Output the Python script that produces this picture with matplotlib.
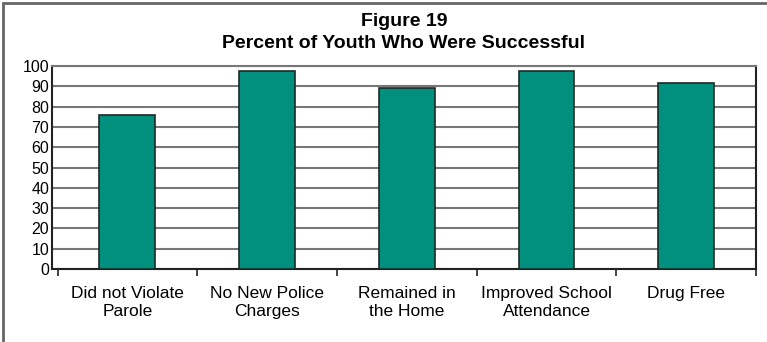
import matplotlib.pyplot as plt
from matplotlib.patches import Rectangle

categories = ["Did not Violate\nParole", "No New Police\nCharges", "Remained in\nthe Home",
              "Improved School\nAttendance", "Drug Free"]
percents = [76, 97.5, 89, 97.5, 91.5]
yticks = list(range(0, 101, 10))

plt.rcParams['font.family'] = ['Liberation Sans', 'DejaVu Sans']

fig = plt.figure(figsize=(7.67, 3.42), dpi=100)
W, H = 767, 342

# outer frame (only left and top edges show in the reference)
fig.patches.append(Rectangle((3 / W, -0.1), 1.2, (H - 3) / H + 0.1, transform=fig.transFigure,
                             fill=False, edgecolor='#666666', linewidth=2))

ax = fig.add_axes([52 / W, 1 - 269 / H, (756 - 52) / W, (269 - 66) / H])

x = range(len(categories))
ax.bar(x, percents, width=0.4, color='#00907d', edgecolor='#1e2a28', linewidth=1.2, zorder=3)

ax.set_ylim(0, 100)
ax.set_xlim(-0.54, 4.5)
ax.set_yticks(yticks)
ax.set_yticklabels([str(t) for t in yticks], fontsize=11.5)
ax.tick_params(axis='y', length=0, pad=2)
ax.yaxis.grid(True, color='#777777', linewidth=1.5, zorder=0)
ax.set_axisbelow(True)

ax.set_xticks(list(x))
ax.set_xticklabels(categories, fontsize=12.5, linespacing=1.25)
ax.tick_params(axis='x', which='major', length=0, pad=12)
ax.set_xticks([i - 0.5 for i in range(len(categories) + 1)], minor=True)
ax.tick_params(axis='x', which='minor', length=5, width=1.2, color='#222222', direction='out')

for side in ['left', 'bottom', 'right']:
    ax.spines[side].set_color('#222222')
    ax.spines[side].set_linewidth(1.5)
ax.spines['top'].set_color('#777777')
ax.spines['top'].set_linewidth(1.5)

fig.text(404 / W, 1 - 21 / H, "Figure 19", ha='center', va='center', fontsize=14, fontweight='bold')
fig.text(404 / W, 1 - 43 / H, "Percent of Youth Who Were Successful", ha='center', va='center',
         fontsize=14, fontweight='bold')

fig.savefig('out.png', dpi=100)
